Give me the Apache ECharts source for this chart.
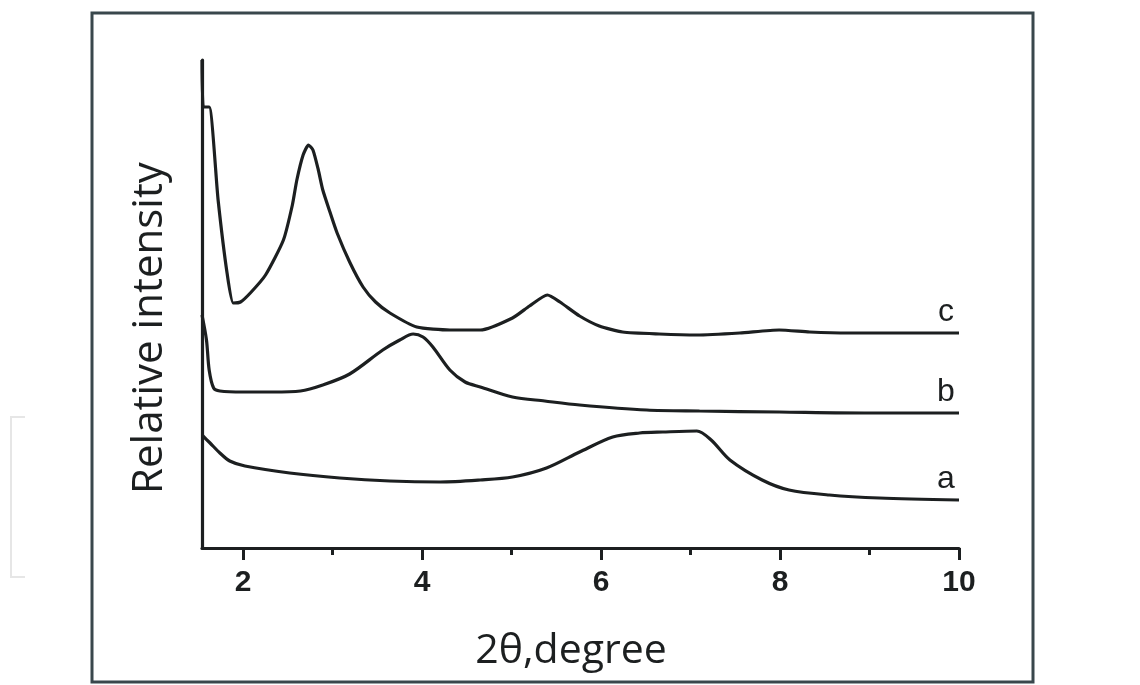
<!DOCTYPE html>
<html>
<head>
<meta charset="utf-8">
<script src="https://cdn.jsdelivr.net/npm/echarts@6/dist/echarts.min.js"></script>
<style>
html,body{margin:0;padding:0;background:#fff;}
#chart{width:1140px;height:685px;}
</style>
</head>
<body>
<div id="chart"></div>
<script>
// 2θ (degree) sample positions and relative intensities (arbitrary units, stacked offsets)
const curveA_x = [1.54,1.63,1.74,1.85,2.02,2.52,3.08,3.64,4.20,4.65,5.01,5.39,5.76,6.13,6.43,6.69,7.07,7.23,7.44,7.80,8.10,8.55,9.11,10.0];
const curveA_y = [113,105,95,87,82,75,70,67,66,68,71,80,96,111,115,116,117,108,88,68,58,53,50,48];

const curveB_x = [1.54,1.59,1.62,1.67,1.74,2.00,2.33,2.64,2.89,3.19,3.56,3.75,3.90,4.01,4.12,4.31,4.48,4.65,5.01,5.37,5.76,6.51,7.10,7.99,9.00,10.0];
const curveB_y = [233,208,178,160,157,156,156,157,163,174,198,208,214,211,201,178,166,161,151,147,143,138,137,136,135,135];

const curveC_x = [1.54,1.555,1.62,1.72,1.82,1.89,1.97,2.08,2.25,2.45,2.55,2.60,2.67,2.73,2.78,2.84,2.89,2.97,3.05,3.19,3.34,3.48,3.64,3.94,4.31,4.65,5.01,5.20,5.40,5.54,5.76,5.98,6.24,6.65,7.07,7.55,7.99,8.33,8.77,9.33,10.0];
const curveC_y = [488,441,441,348,275,245,246,255,273,308,343,368,393,403,398,378,358,336,315,286,261,246,235,221,218,218,230,242,253,246,232,222,216,214,213,215,218,216,215,215,215];

const curveNames = ['a','b','c'];
const xLabelTicks = [2,4,6,8,10];
const xMinorTicks = [3,5,7,9];
const xAxisTitle = '2θ,degree';
const yAxisTitle = 'Relative intensity';

const INK = '#1c1f20';

function endMark(xs, ys, name){
  const n = xs.length - 1;
  return {
    silent:true,
    symbol:'circle', symbolSize:1,
    itemStyle:{color:'rgba(0,0,0,0)'},
    label:{show:true, formatter:name, position:'top', distance:2, offset:[-13,-2],
      fontFamily:'Liberation Sans, Arial, sans-serif', fontSize:32, color:INK},
    data:[{coord:[xs[n], ys[n]]}]
  };
}

function pairs(xs, ys){ return xs.map((x,i)=>[x, ys[i]]); }

const chart = echarts.init(document.getElementById('chart'), null, {renderer:'canvas'});
const lineStyle = {color:INK, width:3.2};
const option = {
  backgroundColor:'#ffffff',
  animation:false,
  grid:{left:202, right:181, top:60, bottom:137, containLabel:false},
  xAxis:[{
    type:'value', min:1.54, max:10, position:'bottom',
    axisLine:{show:true, lineStyle:{color:INK, width:3.2}},
    axisTick:{show:true, customValues:xLabelTicks, length:12, lineStyle:{color:INK, width:3}},
    axisLabel:{show:true, customValues:xLabelTicks, margin:20,
      fontFamily:'Liberation Sans, Arial, sans-serif', fontWeight:'bold', fontSize:30, color:INK},
    splitLine:{show:false}
  },{
    type:'value', min:1.54, max:10, position:'bottom', offset:0,
    axisLine:{show:false},
    axisTick:{show:true, customValues:xMinorTicks, length:7, lineStyle:{color:INK, width:3}},
    axisLabel:{show:false},
    splitLine:{show:false}
  }],
  yAxis:{
    type:'value', min:0, max:488,
    axisLine:{show:true, lineStyle:{color:INK, width:3.2}},
    axisTick:{show:false}, axisLabel:{show:false}, splitLine:{show:false}
  },
  series:[
    {name:curveNames[0], type:'line', data:pairs(curveA_x, curveA_y), smooth:0.3, showSymbol:false, symbol:'none', lineStyle:lineStyle, clip:false, markPoint:endMark(curveA_x, curveA_y, curveNames[0])},
    {name:curveNames[1], type:'line', data:pairs(curveB_x, curveB_y), smooth:0.3, showSymbol:false, symbol:'none', lineStyle:lineStyle, clip:false, markPoint:endMark(curveB_x, curveB_y, curveNames[1])},
    {name:curveNames[2], type:'line', data:pairs(curveC_x, curveC_y), smooth:0.2, showSymbol:false, symbol:'none', lineStyle:lineStyle, clip:false, markPoint:endMark(curveC_x, curveC_y, curveNames[2])}
  ],
  graphic:[
    {type:'rect', shape:{x:92, y:13, width:941, height:669}, style:{fill:null, stroke:'#39474c', lineWidth:3}, silent:true},
    {type:'polyline', shape:{points:[[25,417],[11,417],[11,577],[25,577]]}, style:{fill:null, stroke:'#e6e6e6', lineWidth:2}, silent:true},
    {type:'text', x:571, y:651, style:{text:xAxisTitle, fontFamily:'Open Sans', fontSize:41, fill:INK, align:'center', verticalAlign:'middle'}, silent:true},
    {type:'text', x:150, y:328, rotation:Math.PI/2, style:{text:yAxisTitle, fontFamily:'Open Sans', fontSize:42, fill:INK, align:'center', verticalAlign:'middle'}, silent:true}
  ]
};
chart.setOption(option);
</script>
</body>
</html>
